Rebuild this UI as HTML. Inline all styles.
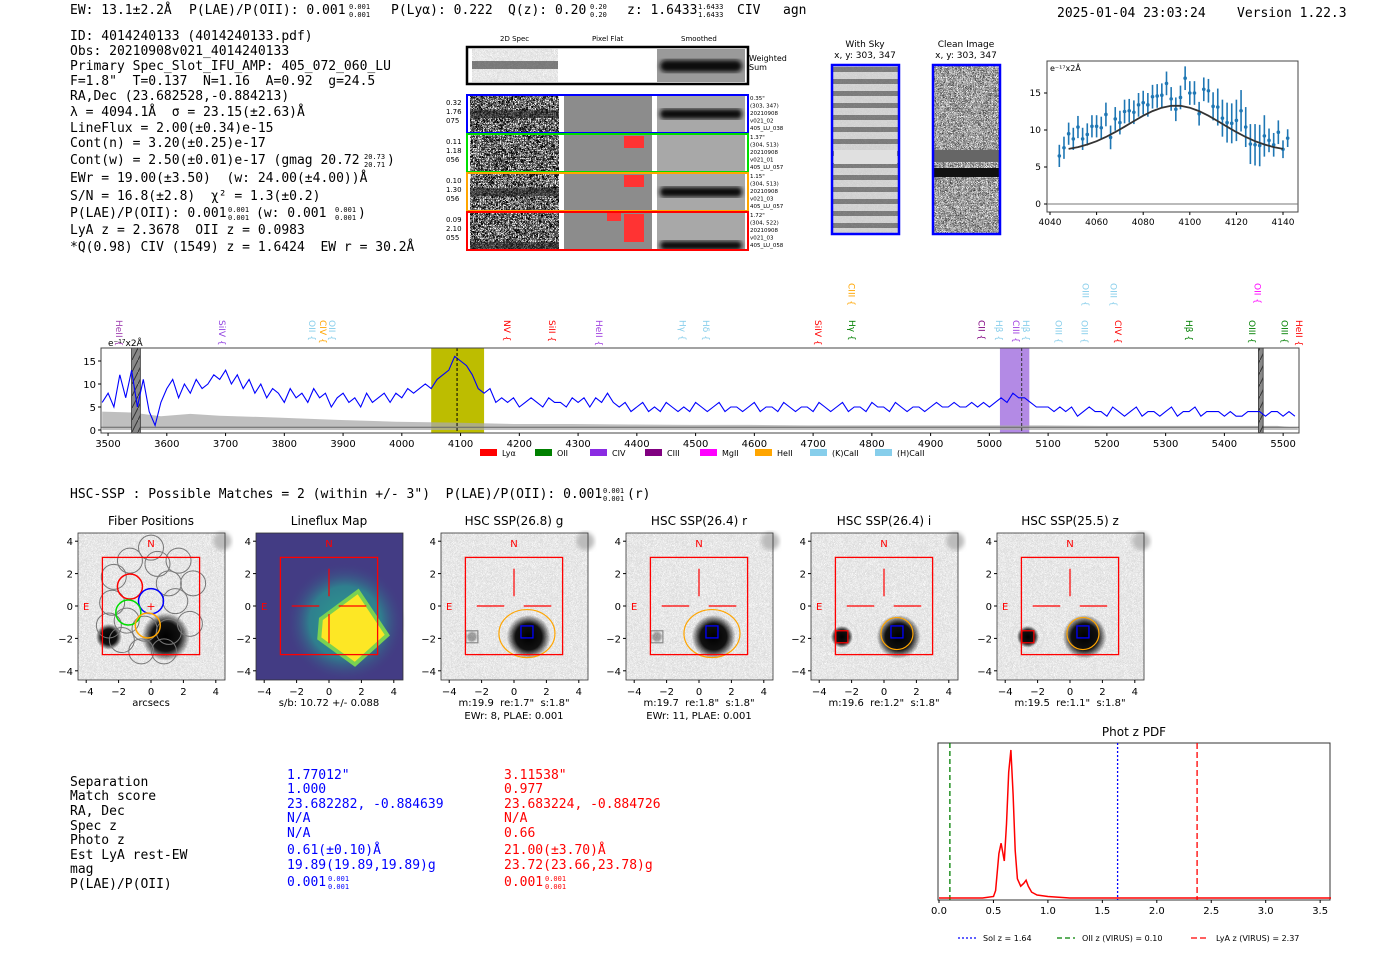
<!DOCTYPE html>
<html><head><meta charset="utf-8"><style>
html,body{margin:0;padding:0;background:#fff;}
svg{display:block;font-family:"DejaVu Sans","Liberation Sans",sans-serif;}
text{white-space:pre;}
.m{font-family:"DejaVu Sans Mono","Liberation Mono",monospace;font-size:13px;}
.s{font-size:7px;}
</style></head><body>
<svg id="root" width="1400" height="953" viewBox="0 0 1400 953" xmlns="http://www.w3.org/2000/svg" xml:space="preserve">
<defs>
<filter id="noise" x="0" y="0" width="100%" height="100%"><feTurbulence type="turbulence" baseFrequency="0.6" numOctaves="1" seed="3"/><feColorMatrix type="matrix" values="2.6 0 0 0 -0.2 2.6 0 0 0 -0.2 2.6 0 0 0 -0.2 0 0 0 0 1"/></filter>
<filter id="noise2" x="0" y="0" width="100%" height="100%"><feTurbulence type="turbulence" baseFrequency="0.8" numOctaves="1" seed="7"/><feColorMatrix type="matrix" values="2.2 0 0 0 0.05 2.2 0 0 0 0.05 2.2 0 0 0 0.05 0 0 0 0 1"/></filter>
<filter id="noise3" x="0" y="0" width="100%" height="100%"><feTurbulence type="turbulence" baseFrequency="0.9" numOctaves="1" seed="11"/><feColorMatrix type="matrix" values="0.6 0 0 0 0.7 0.6 0 0 0 0.7 0.6 0 0 0 0.7 0 0 0 0 1"/></filter>
<filter id="blur"><feGaussianBlur stdDeviation="2"/></filter>
<radialGradient id="blob"><stop offset="0" stop-color="#000"/><stop offset="0.6" stop-color="#111"/><stop offset="1" stop-color="#000" stop-opacity="0"/></radialGradient>
<radialGradient id="lfg"><stop offset="0" stop-color="#2a9d8f"/><stop offset="0.6" stop-color="#2f7f8e"/><stop offset="1" stop-color="#433c84" stop-opacity="0"/></radialGradient>
<pattern id="hatch" width="6" height="12" patternUnits="userSpaceOnUse"><rect width="6" height="12" fill="#888"/><line x1="0" y1="12" x2="6" y2="0" stroke="#333" stroke-width="1"/></pattern>
<pattern id="stripes" width="10" height="12" patternUnits="userSpaceOnUse"><rect width="10" height="12" fill="#c8c8c8"/><rect y="7" width="10" height="5" fill="#444"/></pattern>
</defs>

<g class="m">
<text x="70" y="14">EW: 13.1±2.2Å</text>
<text x="189" y="14">P(LAE)/P(OII): 0.001</text><text x="349" y="9" class="s">0.001</text><text x="349" y="17" class="s">0.001</text>
<text x="391" y="14">P(Lyα): 0.222</text>
<text x="508" y="14">Q(z): 0.20</text><text x="590" y="9" class="s">0.20</text><text x="590" y="17" class="s">0.20</text>
<text x="627" y="14">z: 1.6433</text><text x="698" y="9" class="s">1.6433</text><text x="698" y="17" class="s">1.6433</text>
<text x="737" y="14">CIV</text><text x="783" y="14">agn</text>
<text x="1057" y="17">2025-01-04 23:03:24</text><text x="1237" y="17">Version 1.22.3</text>
</g>

<g class="m">
<text x="70" y="40">ID: 4014240133 (4014240133.pdf)</text>
<text x="70" y="55">Obs: 20210908v021_4014240133</text>
<text x="70" y="70">Primary Spec_Slot_IFU_AMP: 405_072_060_LU</text>
<text x="70" y="85">F=1.8"  T=0.137  N=1.16  A=0.92  g=24.5</text>
<text x="70" y="100">RA,Dec (23.682528,-0.884213)</text>
<text x="70" y="116">λ = 4094.1Å  σ = 23.15(±2.63)Å</text>
<text x="70" y="132">LineFlux = 2.00(±0.34)e-15</text>
<text x="70" y="147">Cont(n) = 3.20(±0.25)e-17</text>
<text x="70" y="164">Cont(w) = 2.50(±0.01)e-17 (gmag 20.72</text><text x="364" y="159" class="s">20.73</text><text x="364" y="167" class="s">20.71</text><text x="387" y="164">)</text>
<text x="70" y="182">EWr = 19.00(±3.50)  (w: 24.00(±4.00))Å</text>
<text x="70" y="200">S/N = 16.8(±2.8)  χ² = 1.3(±0.2)</text>
<text x="70" y="217">P(LAE)/P(OII): 0.001</text><text x="228" y="212" class="s">0.001</text><text x="228" y="220" class="s">0.001</text><text x="256" y="217">(w: 0.001</text><text x="335" y="212" class="s">0.001</text><text x="335" y="220" class="s">0.001</text><text x="358" y="217">)</text>
<text x="70" y="234">LyA z = 2.3678  OII z = 0.0983</text>
<text x="70" y="251">*Q(0.98) CIV (1549) z = 1.6424  EW r = 30.2Å</text>
</g>

<g font-size="7">
<text x="500" y="41">2D Spec</text><text x="592" y="41">Pixel Flat</text><text x="681" y="41">Smoothed</text>
<rect x="467" y="47" width="281" height="37" fill="#fff" stroke="#000" stroke-width="2.5"/>
<rect x="472" y="49" width="86" height="33" filter="url(#noise3)"/>
<rect x="472" y="61" width="86" height="8" fill="#333" opacity="0.6"/>
<rect x="657" y="49" width="88" height="33" fill="#9a9a9a"/>
<rect x="660" y="60" width="82" height="12" rx="6" fill="#111" filter="url(#blur)"/>
<text x="749" y="61" font-size="8">Weighted</text><text x="749" y="70" font-size="8">Sum</text>
<g id="rows"></g>
</g>

<g font-size="9">
<text x="865" y="47" text-anchor="middle">With Sky</text><text x="865" y="58" text-anchor="middle">x, y: 303, 347</text>
<rect x="832" y="65" width="67" height="169" fill="url(#stripes)"/>
<rect x="832" y="65" width="67" height="169" filter="url(#noise3)" opacity="0.35"/>
<rect x="834" y="150" width="63" height="14" fill="#e0e0e0"/>
<rect x="832" y="65" width="67" height="169" fill="none" stroke="#00f" stroke-width="2.5"/>
<text x="966" y="47" text-anchor="middle">Clean Image</text><text x="966" y="58" text-anchor="middle">x, y: 303, 347</text>
<rect x="933" y="65" width="67" height="169" filter="url(#noise2)"/>
<rect x="934" y="150" width="65" height="12" fill="#666"/><rect x="934" y="168" width="65" height="9" fill="#111"/>
<rect x="933" y="65" width="67" height="169" fill="none" stroke="#00f" stroke-width="2.5"/>
</g>

<g id="zoomplot"></g>
<g id="specplot"></g>

<text x="70" y="498" class="m">HSC-SSP : Possible Matches = 2 (within +/- 3")  P(LAE)/P(OII): 0.001</text>
<text x="603" y="493" class="m s">0.001</text><text x="603" y="501" class="m s">0.001</text><text x="627" y="498" class="m">(r)</text>

<g id="cutouts"></g>

<g class="m">
<g>
<text x="70" y="786">Separation</text><text x="70" y="800">Match score</text><text x="70" y="815">RA, Dec</text><text x="70" y="830">Spec z</text><text x="70" y="844">Photo z</text><text x="70" y="859">Est LyA rest-EW</text><text x="70" y="873">mag</text><text x="70" y="888">P(LAE)/P(OII)</text>
</g>
<g fill="#00f">
<text x="287" y="779">1.77012"</text><text x="287" y="793">1.000</text><text x="287" y="808">23.682282, -0.884639</text><text x="287" y="822">N/A</text><text x="287" y="837">N/A</text><text x="287" y="854">0.61(±0.10)Å</text><text x="287" y="869">19.89(19.89,19.89)g</text><text x="287" y="886">0.001</text><text x="328" y="881" class="s">0.001</text><text x="328" y="889" class="s">0.001</text>
</g>
<g fill="#f00">
<text x="504" y="779">3.11538"</text><text x="504" y="793">0.977</text><text x="504" y="808">23.683224, -0.884726</text><text x="504" y="822">N/A</text><text x="504" y="837">0.66</text><text x="504" y="854">21.00(±3.70)Å</text><text x="504" y="869">23.72(23.66,23.78)g</text><text x="504" y="886">0.001</text><text x="545" y="881" class="s">0.001</text><text x="545" y="889" class="s">0.001</text>
</g>
</g>

<g id="photz"></g>

<script>
const NS='http://www.w3.org/2000/svg';
function mk(parent,tag,attrs,txt){const e=document.createElementNS(NS,tag);for(const k in attrs)e.setAttribute(k,attrs[k]);if(txt!==undefined)e.textContent=txt;parent.appendChild(e);return e;}

/* ---------- full spectrum data (10 Å bins starting 3490) ---------- */
const specStart=3490, specStep=10;
const specFlux=[6,8,5,12,7,13,5,11,4,1,
6,9,11,7,10,8,11,9,10,12,
11,13,10,12,9,11,8,10,7,9,
8,6,9,7,8,6,9,7,8,5,
7,8,6,7,5,8,6,7,8,6,
8,7,9,8,9,10,9,11,12,13,
16,15,14,12,9,8,9,6,7,6,
7,5,6,7,6,5,7,6,6,5,
7,6,7,5,7,6,8,6,5,6,
4,5,6,4,5,4,6,5,4,5,
4,6,5,4,5,6,4,5,5,4,
5,6,4,5,5,4,6,5,4,5,
5,4,6,5,4,5,6,4,5,5,
4,6,5,5,4,6,5,4,5,5,
4,5,6,5,5,6,5,5,6,5,
6,5,6,7,6,8,7,7,6,5,
5,5,4,5,4,5,3,4,5,4,
4,3,5,4,3,4,5,3,4,4,
3,4,5,3,4,4,5,3,4,4,
4,3,4,3,3,4,4,4,3,4,
4,3,4,3];
const specWave=specFlux.map((_,i)=>specStart+i*specStep);
const errWave=[3490,3540,3590,3640,3690,3790,3890,3990,4090,4190,4290,4390,4490,4590,4690,4790,4890,4990,5090,5190,5290,5390,5490,5525];
const errFlux=[4,3.8,3,3.5,3.1,2.7,2.2,1.8,1.6,1.3,1.3,1.2,1.1,1.1,1.0,1.0,1.0,1.0,1.0,0.9,0.9,0.9,0.9,0.5];
const specXTicks=[3500,3600,3700,3800,3900,4000,4100,4200,4300,4400,4500,4600,4700,4800,4900,5000,5100,5200,5300,5400,5500];
const specYTicks=[0,5,10,15];
const lineNames=['HeII','SiIV','OII','CIV','OII','NV','SiII','HeII','Hγ','Hδ','SiIV','CIII','Hγ','CII','Hβ','CIII','Hβ','OIII','OIII','OIII','OIII','CIV','Hβ','OIII','OII','OIII','HeII'];
const lineWaves=[3519,3694,3847,3866,3881,4179,4256,4336,4478,4518,4708,4765,4766,4987,5016,5045,5062,5118,5162,5164,5211,5219,5340,5447,5456,5502,5527];
const lineRows=[0,0,0,0,0,0,0,0,0,0,0,1,0,0,0,0,0,0,0,1,1,0,0,0,1,0,0];
const lineColors=['#a040b0','#9040e0','#87ceeb','#ffa500','#87ceeb','#ff0000','#ff0000','#a040e0','#87ceeb','#87ceeb','#ff0000','#ffa500','#008000','#800080','#87ceeb','#a040e0','#87ceeb','#87ceeb','#87ceeb','#87ceeb','#87ceeb','#ff0000','#008000','#008000','#ff00ff','#008000','#ff0000'];
const legendNames=['Lyα','OII','CIV','CIII','MgII','HeII','(K)CaII','(H)CaII'];
const legendColors=['#ff0000','#008000','#8a2be2','#800080','#ff00ff','#ffa500','#87ceeb','#87ceeb'];

const SX0=101,SX1=1299,SY0=348,SY1=430;
const sx=w=>SX0+(w-3488)*(SX1-SX0)/(5527-3488);
const sy=v=>SY1-v*4.6;
(function(){
 const g=document.getElementById('specplot');
 let r=mk(g,'rect',{x:SX0,y:SY0,width:SX1-SX0,height:SY1-SY0+3,fill:'#fff'});
 
 
 r=mk(g,'rect',{x:sx(4050),y:SY0,width:sx(4140)-sx(4050),height:SY1-SY0+3,fill:'#bdbd00'});
 
 
 r=mk(g,'rect',{x:sx(5018),y:SY0,width:sx(5068)-sx(5018),height:SY1-SY0+3,fill:'#a675e0',opacity:0.85});
 
 
 let d='M'+sx(errWave[0])+','+sy(0);
 errWave.forEach((w,i)=>{d+=' L'+sx(w).toFixed(1)+','+sy(errFlux[i]).toFixed(1);});
 d+=' L'+sx(errWave[errWave.length-1])+','+sy(0)+'Z';
 let p=mk(g,'path',{d:d,fill:'#aaa',opacity:0.75});
 
 
 let l=mk(g,'line',{x1:SX0,x2:SX1,y1:sy(0.6),y2:sy(0.6),stroke:'#666','stroke-width':1});
 
 
 [[3540,3555],[5458,5466]].forEach(b=>{const h=mk(g,'rect',{x:sx(b[0]),y:SY0,width:sx(b[1])-sx(b[0]),height:SY1-SY0+3,fill:'url(#hatch)',stroke:'#333','stroke-width':0.8});
  
  });
 const pts=specWave.map((w,i)=>sx(w).toFixed(1)+','+sy(specFlux[i]).toFixed(1)).join(' ');
 p=mk(g,'polyline',{points:pts,fill:'none',stroke:'#0000ff','stroke-width':1.1});
 
 
 [[4094,'#000'],[5055,'#333']].forEach(v=>{const dl=mk(g,'line',{x1:sx(v[0]),x2:sx(v[0]),y1:SY0,y2:SY1+3,stroke:v[1],'stroke-width':1,'stroke-dasharray':'3,2'});
  
  });
 r=mk(g,'rect',{x:SX0,y:SY0,width:SX1-SX0,height:SY1-SY0+3,fill:'none',stroke:'#444','stroke-width':1});
 
 
 specXTicks.forEach(t=>{const x=sx(t);mk(g,'line',{x1:x,x2:x,y1:SY1+3,y2:SY1+6,stroke:'#000'});
  const tt=mk(g,'text',{x:x,y:SY1+17,'text-anchor':'middle','font-size':10},t);
  
  });
 specYTicks.forEach(t=>{const y=sy(t);mk(g,'line',{x1:SX0-3,x2:SX0,y1:y,y2:y,stroke:'#000'});
  const tt=mk(g,'text',{x:SX0-5,y:y+4,'text-anchor':'end','font-size':10},t);
  
  });
 let u=mk(g,'text',{x:108,y:346,'font-size':9},'e⁻¹⁷x2Å');
 
 
 lineNames.forEach((n,i)=>{const x=sx(lineWaves[i]);const y=lineRows[i]?283:320;
  const t=mk(g,'text',{x:0,y:0,transform:'translate('+(x-3)+','+y+') rotate(90)','font-size':9,fill:lineColors[i]},n+' {');
  
  });
 legendNames.forEach((n,i)=>{const x=480+i*55+(i>6?10:0);
  const pr=mk(g,'rect',{x:x,y:449,width:17,height:7,fill:legendColors[i]});
  
  
  const t=mk(g,'text',{x:x+22,y:456,'font-size':8},n);
  
  });
})();

/* ---------- zoom line-fit plot ---------- */
const fitWave=[4044,4046,4048,4050,4052,4054,4056,4058,4060,4062,4064,4066,4068,4070,4072,4074,4076,4078,4080,4082,4084,4086,4088,4090,4092,4094,4096,4098,4100,4102,4104,4106,4108,4110,4112,4114,4116,4118,4120,4122,4124,4126,4128,4130,4132,4134,4136,4138,4140,4142];
const fitFlux=[6.5,7.6,9.5,8.8,10.4,8.8,9.4,10.5,10.5,10.3,12.1,9.0,11.5,11.0,12.5,12.6,12.4,13.4,13.7,13.4,14.5,14.6,14.7,16.3,14.2,12.8,14.4,17.0,15.0,15.0,12.2,15.5,15.3,13.2,13.1,11.6,11.0,10.9,11.3,12.6,10.4,8.1,8.0,7.9,9.2,8.6,8.0,9.7,7.4,8.9];
const fitErr=[1.5,1.5,1.5,1.5,1.5,1.5,1.5,1.5,1.5,1.5,1.6,1.6,1.6,1.6,1.6,1.6,1.6,1.6,1.6,1.6,1.6,1.6,1.6,1.6,1.6,1.6,1.6,1.6,1.6,1.6,1.6,1.6,1.6,1.9,2.5,2.5,2.7,2.7,2.8,2.8,2.7,2.7,2.8,2.8,2.8,1.6,1.6,1.6,1.2,1.2];
const modelWave=[4048,4052,4056,4060,4064,4068,4072,4076,4080,4084,4088,4092,4096,4100,4104,4108,4112,4116,4120,4124,4128,4132,4136,4140];
const modelFlux=[7.45,7.69,8.04,8.49,9.05,9.71,10.44,11.2,11.93,12.56,13.02,13.27,13.27,13.02,12.56,11.93,11.2,10.44,9.71,9.05,8.49,8.04,7.69,7.45];
const fitXTicks=[4040,4060,4080,4100,4120,4140];
const fitYTicks=[0,5,10,15];
(function(){
 const g=document.getElementById('zoomplot');
 const X=w=>1050+(w-4040)*2.33, Y=v=>204-v*7.4;
 let r=mk(g,'rect',{x:1047,y:61,width:251,height:151,fill:'#fff',stroke:'#444'});
 
 
 let l=mk(g,'line',{x1:1047,x2:1298,y1:Y(0),y2:Y(0),stroke:'#777'});
 
 
 fitWave.forEach((w,i)=>{const x=X(w);
  const e=mk(g,'line',{x1:x,x2:x,y1:Y(fitFlux[i]-fitErr[i]),y2:Y(fitFlux[i]+fitErr[i]),stroke:'#1f77b4','stroke-width':1.6});
  
  
  const c=mk(g,'circle',{cx:x,cy:Y(fitFlux[i]),r:1.8,fill:'#1f77b4'});
  
  });
 const p=mk(g,'polyline',{points:modelWave.map((w,i)=>X(w).toFixed(1)+','+Y(modelFlux[i]).toFixed(1)).join(' '),fill:'none',stroke:'#333','stroke-width':1.8});
 
 
 fitXTicks.forEach(t=>{mk(g,'line',{x1:X(t),x2:X(t),y1:212,y2:215,stroke:'#000'});
  const tt=mk(g,'text',{x:X(t),y:225,'text-anchor':'middle','font-size':9},t);
  
  });
 fitYTicks.forEach(t=>{mk(g,'line',{x1:1044,x2:1047,y1:Y(t),y2:Y(t),stroke:'#000'});
  const tt=mk(g,'text',{x:1041,y:Y(t)+3,'text-anchor':'end','font-size':9},t);
  
  });
 const u=mk(g,'text',{x:1050,y:71,'font-size':8},'e⁻¹⁷x2Å');
 
 
})();

/* ---------- 2D spec rows ---------- */
const rowColors=['#0000ff','#00dd00','#ffa500','#ff0000'];
const rowLeft=[['0.32','1.76','075'],['0.11','1.18','056'],['0.10','1.30','056'],['0.09','2.10','055']];
const rowRight=[['0.35"','(303, 347)','20210908','v021_02','405_LU_038'],['1.37"','(304, 513)','20210908','v021_01','405_LU_057'],['1.15"','(304, 513)','20210908','v021_03','405_LU_057'],['1.72"','(304, 522)','20210908','v021_03','405_LU_058']];
(function(){
 const g=document.getElementById('rows');
 for(let i=0;i<4;i++){const y=95+i*39;
  let n=mk(g,'rect',{x:470,y:y+1,width:89,height:37,filter:'url(#noise)'});
  
  
  if(i!==1){mk(g,'rect',{x:470,y:y+(i===3?30:15),width:89,height:8,fill:'#222',opacity:0.6});}
  n=mk(g,'rect',{x:564,y:y+1,width:88,height:37,fill:'#8c8c8c'});
  
  
  if(i===1||i===2){mk(g,'rect',{x:624,y:y+2,width:20,height:12,fill:'#f33'});}
  if(i===3){mk(g,'rect',{x:607,y:y+1,width:14,height:8,fill:'#f33'});mk(g,'rect',{x:624,y:y+2,width:20,height:28,fill:'#f33'});}
  n=mk(g,'rect',{x:657,y:y+1,width:88,height:37,fill:'#a8a8a8'});
  
  
  if(i!==1){mk(g,'rect',{x:660,y:y+(i===3?29:14),width:82,height:(i===3?9:10),rx:4,fill:'#111',filter:'url(#blur)'});}
  n=mk(g,'rect',{x:467,y:y,width:281,height:38,fill:'none',stroke:rowColors[i],'stroke-width':2});
  
  
  rowLeft[i].forEach((s,k)=>mk(g,'text',{x:446,y:y+10+k*9,'font-size':7},s));
  rowRight[i].forEach((s,k)=>mk(g,'text',{x:750,y:y+5+k*7.5,'font-size':5.5},s));
 }
})();

/* ---------- cutouts ---------- */
const cutTitles=['Fiber Positions','Lineflux Map','HSC SSP(26.8) g','HSC SSP(26.4) r','HSC SSP(26.4) i','HSC SSP(25.5) z'];
const cutX=[78,256,441,626,811,997];
const cutCap1=['arcsecs','s/b: 10.72 +/- 0.088','m:19.9  re:1.7"  s:1.8"','m:19.7  re:1.8"  s:1.8"','m:19.6  re:1.2"  s:1.8"','m:19.5  re:1.1"  s:1.8"'];
const cutCap2=['','','EWr: 8, PLAE: 0.001','EWr: 11, PLAE: 0.001','',''];
const cutTicks=[-4,-2,0,2,4];
(function(){
 const g=document.getElementById('cutouts');
 const S=16.2;
 cutX.forEach((x0,i)=>{
  const cx=x0+73, cy=606, A=a=>cx+a*S, B=b=>cy-b*S;
  const pg=mk(g,'g',{});
  
  
  const tt=mk(pg,'text',{x:cx,y:525,'text-anchor':'middle','font-size':12},cutTitles[i]);
  
  
  if(i===1){
   mk(pg,'rect',{x:x0,y:533,width:147,height:147,fill:'#433c84'});
   mk(pg,'circle',{cx:A(1),cy:B(-1),r:60,fill:'url(#lfg)'});
   const poly=mk(pg,'polygon',{points:[[A(-0.5),B(-0.8)],[A(1.8),B(0.9)],[A(3.6),B(-1.8)],[A(1.6),B(-3.6)],[A(-0.6),B(-2)]].map(p=>p.join(',')).join(' '),fill:'#fde725',stroke:'#7ad151','stroke-width':4});
   
   
  } else {
   mk(pg,'rect',{x:x0,y:533,width:147,height:147,filter:'url(#noise3)'});
   mk(pg,'circle',{cx:A(4.4),cy:B(4),r:9,fill:'#bbb',filter:'url(#blur)'});
   const bl=mk(pg,'circle',{cx:A(0.9),cy:B(-1.9),r:(i===0?24:22),fill:'url(#blob)'});
   
   
   mk(pg,'circle',{cx:A(-2.6),cy:B(-1.9),r:(i>=4?11:(i===0?13:6)),fill:'url(#blob)',opacity:(i>=2&&i<4?0.35:1)});
  }
  if(i===0){
   const fib=[[0,3.6],[-1.3,2.8],[0.4,2.6],[1.7,2.8],[-2.3,1.8],[-1.3,1.2],[1.1,1.4],[2.6,1.4],[-2.4,0.2],[1.5,0.3],[-2.6,-1.2],[2.4,-1.1],[-1.8,-2.1],[-0.4,-1.4],[1.1,-1.6],[0.8,-2.8],[-0.6,-2.8],[-1.5,-0.9]];
   fib.forEach(f=>mk(pg,'circle',{cx:A(f[0]),cy:B(f[1]),r:12.5,fill:'none',stroke:'#777','stroke-width':1}));
   [[-1.3,1.2,'#f00'],[0,0.3,'#00f'],[-1.4,-0.4,'#0d0'],[-0.2,-1.2,'#ffa500']].forEach(f=>{const c=mk(pg,'circle',{cx:A(f[0]),cy:B(f[1]),r:12.5,fill:'none',stroke:f[2],'stroke-width':1.5});
    
    });
   mk(pg,'text',{x:cx,y:B(0)+4,'text-anchor':'middle','font-size':11,fill:'#f00'},'+');
  } else {
   mk(pg,'line',{x1:A(0),x2:A(0),y1:B(2.3),y2:B(0.6),stroke:'#f00','stroke-width':1.2});
   mk(pg,'line',{x1:A(-2.3),x2:A(-0.6),y1:B(0),y2:B(0),stroke:'#f00','stroke-width':1.2});
   mk(pg,'line',{x1:A(0.6),x2:A(2.3),y1:B(0),y2:B(0),stroke:'#f00','stroke-width':1.2});
   if(i===1)mk(pg,'line',{x1:A(0),x2:A(0),y1:B(-0.5),y2:B(-2.3),stroke:'#f00','stroke-width':1.2});
  }
  if(i>=2){
   const e=mk(pg,'ellipse',{cx:A(0.8),cy:B(-1.7),rx:(i>=4?16:28),ry:(i>=4?16:24),fill:'none',stroke:'#ffa500','stroke-width':1.2});
   
   
   mk(pg,'rect',{x:A(0.8)-6,y:B(-1.6)-6,width:12,height:12,fill:'none',stroke:'#00f','stroke-width':1.3});
   mk(pg,'rect',{x:A(-2.6)-6,y:B(-1.9)-6,width:12,height:12,fill:'none',stroke:(i>=4?'#f00':'#888'),'stroke-width':1.2});
   if(i>=4)mk(pg,'circle',{cx:A(-2.6),cy:B(-1.9),r:16,fill:'none',stroke:'#ddd','stroke-width':1});
  }
  const box=mk(pg,'rect',{x:A(-3),y:B(3),width:6*S,height:6*S,fill:'none',stroke:'#f00','stroke-width':1.3});
  
  
  mk(pg,'text',{x:A(0),y:B(3.9)+4,'text-anchor':'middle','font-size':10,fill:'#f00'},'N');
  mk(pg,'text',{x:A(-4),y:B(0)+4,'text-anchor':'middle','font-size':10,fill:'#f00'},'E');
  mk(pg,'rect',{x:x0,y:533,width:147,height:147,fill:'none',stroke:'#333','stroke-width':0.8});
  cutTicks.forEach(t=>{mk(pg,'line',{x1:A(t),x2:A(t),y1:680,y2:683,stroke:'#000'});
   mk(pg,'text',{x:A(t),y:695,'text-anchor':'middle','font-size':10},(t<0?'−':'')+Math.abs(t));
   mk(pg,'line',{x1:x0-3,x2:x0,y1:B(t),y2:B(t),stroke:'#000'});
   mk(pg,'text',{x:x0-5,y:B(t)+4,'text-anchor':'end','font-size':10},(t<0?'−':'')+Math.abs(t));});
  const c1=mk(pg,'text',{x:cx,y:706,'text-anchor':'middle','font-size':10},cutCap1[i]);
  
  
  if(cutCap2[i]){const c2=mk(pg,'text',{x:cx,y:719,'text-anchor':'middle','font-size':10},cutCap2[i]);
   
   }
 });
})();

/* ---------- phot z PDF ---------- */
const pdfZ=[0,0.4,0.5,0.52,0.55,0.57,0.6,0.62,0.64,0.66,0.68,0.7,0.72,0.75,0.78,0.8,0.82,0.85,0.9,1.0,1.2,3.6];
const pdfP=[0,0,0.01,0.05,0.3,0.37,0.25,0.5,0.85,1.0,0.7,0.32,0.13,0.08,0.1,0.12,0.08,0.04,0.02,0.01,0,0];
const zTicks=[0,0.5,1,1.5,2,2.5,3,3.5];
const zMarkers=[1.64,0.10,2.37];
const zMarkerColors=['#0000ff','#008000','#ff0000'];
const zMarkerDash=['2,2','5,3','6,3'];
const zMarkerLabels=['Sol z = 1.64','OII z (VIRUS) = 0.10','LyA z (VIRUS) = 2.37'];
(function(){
 const g=document.getElementById('photz');
 const X=z=>939+z*108.9, Y=p=>898-p*148;
 let t=mk(g,'text',{x:1134,y:736,'text-anchor':'middle','font-size':12},'Phot z PDF');
 
 
 let r=mk(g,'rect',{x:938,y:743,width:392,height:157,fill:'#fff',stroke:'#333'});
 
 
 zMarkers.forEach((z,i)=>{const l=mk(g,'line',{x1:X(z),x2:X(z),y1:743,y2:900,stroke:zMarkerColors[i],'stroke-width':1.3,'stroke-dasharray':zMarkerDash[i]});
  
  });
 const p=mk(g,'polyline',{points:pdfZ.map((z,i)=>X(z).toFixed(1)+','+Y(pdfP[i]).toFixed(1)).join(' '),fill:'none',stroke:'#f00','stroke-width':1.5});
 
 
 zTicks.forEach(z=>{mk(g,'line',{x1:X(z),x2:X(z),y1:900,y2:903,stroke:'#000'});
  const tt=mk(g,'text',{x:X(z),y:914,'text-anchor':'middle','font-size':10},z.toFixed(1));
  
  });
 const lx=[958,1057,1191];
 zMarkerLabels.forEach((s,i)=>{const l=mk(g,'line',{x1:lx[i],x2:lx[i]+18,y1:938,y2:938,stroke:zMarkerColors[i],'stroke-width':1.3,'stroke-dasharray':zMarkerDash[i]});
  
  
  const tt=mk(g,'text',{x:lx[i]+25,y:941,'font-size':8},s);
  
  });
})();
</script>
</svg>
</body></html>
